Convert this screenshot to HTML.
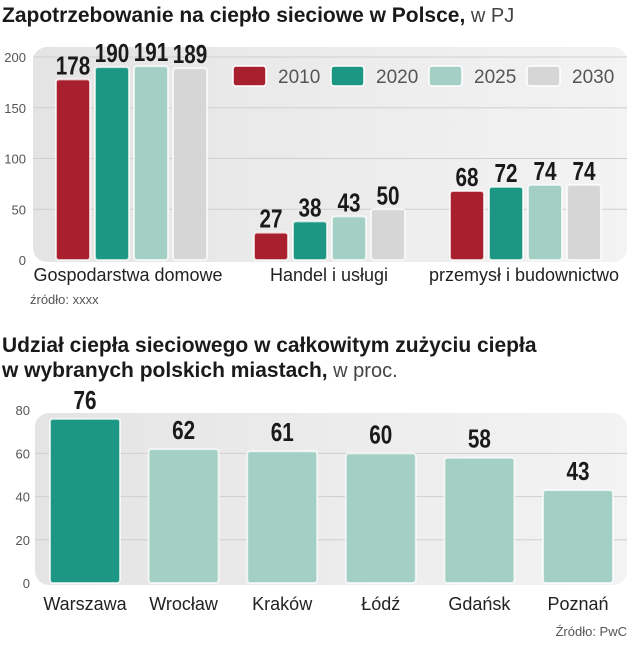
<!DOCTYPE html>
<html><head><meta charset="utf-8">
<style>
body{margin:0;background:#fff;width:630px;height:640px;overflow:hidden;font-family:"Liberation Sans",sans-serif}
svg text{font-family:"Liberation Sans",sans-serif}
.t{font-weight:bold;font-size:21px;fill:#1a1a1a}
.tl{font-weight:normal;font-size:20px;fill:#444}
.tick{font-size:13px;fill:#555}
.val{font-weight:bold;font-size:26px;fill:#1a1a1a}
.cat{font-size:18px;fill:#222}
</style></head>
<body>
<svg id="c" width="630" height="640" xmlns="http://www.w3.org/2000/svg">
<defs>
<linearGradient id="bg" x1="0" y1="0" x2="1" y2="0"><stop offset="0" stop-color="#e4e4e4"/><stop offset="1" stop-color="#f3f3f3"/></linearGradient>
</defs>
<text x="2" y="22" class="t">Zapotrzebowanie na ciepło sieciowe w Polsce,<tspan class="tl"> w PJ</tspan></text>
<rect x="33" y="47" width="594" height="215" rx="14" fill="url(#bg)"/>
<g id="g1"></g>
<text x="30" y="304" font-size="13" fill="#555">źródło: xxxx</text>
<text x="2" y="352" class="t">Udział ciepła sieciowego w całkowitym zużyciu ciepła</text>
<text x="2" y="377" class="t">w wybranych polskich miastach,<tspan class="tl"> w proc.</tspan></text>
<rect x="35" y="413" width="592" height="172" rx="14" fill="url(#bg)"/>
<g id="g2"></g>
<text x="627" y="636" text-anchor="end" font-size="13" fill="#555">Źródło: PwC</text>
</svg>
<script>
const groups1=["Gospodarstwa domowe","Handel i usługi","przemysł i budownictwo"];
const years1=["2010","2020","2025","2030"];
const s2010=[178,27,68];
const s2020=[190,38,72];
const s2025=[191,43,74];
const s2030=[189,50,74];
const ticks1=[0,50,100,150,200];
const cities=["Warszawa","Wrocław","Kraków","Łódź","Gdańsk","Poznań"];
const shares=[76,62,61,60,58,43];
const ticks2=[0,20,40,60,80];

const NS="http://www.w3.org/2000/svg";
const colors=["#a8202e","#1b9783","#a3cfc4","#d6d6d6"];
function mk(tag,attrs,parent,txt){const e=document.createElementNS(NS,tag);for(const k in attrs)e.setAttribute(k,attrs[k]);if(txt!==undefined)e.textContent=txt;parent.appendChild(e);return e;}
function valLabel(parent,cx,y,v){
  const s=String(v);
  const t=mk('text',{x:cx,y:y,'text-anchor':'middle',class:'val',textLength:s.length*11.5,lengthAdjust:'spacingAndGlyphs'},parent,s);
  
  
}
const g1=document.getElementById('g1'),g2=document.getElementById('g2');
const y1=v=>260-v*1.015;
ticks1.forEach(t=>{
  if(t>0){const l=mk('line',{x1:33,x2:627,y1:y1(t),y2:y1(t),stroke:'#cfcfcf','stroke-width':1},g1);
  
  }
  const tx=mk('text',{x:26,y:y1(t)+5,'text-anchor':'end',class:'tick'},g1,String(t));
  
  
});
const series=[s2010,s2020,s2025,s2030];
const gx=[56,254,450],catx=[128,329,524];
groups1.forEach((gname,gi)=>{
  series.forEach((s,si)=>{
    const x=gx[gi]+si*39,v=s[gi];
    const r=mk('rect',{x:x,y:y1(v),width:34,height:260-y1(v),rx:3,fill:colors[si],stroke:'#fff','stroke-opacity':0.7,'stroke-width':2},g1);
    
    
    valLabel(g1,x+17,y1(v)-5,v);
  });
  const c=mk('text',{x:catx[gi],y:281,'text-anchor':'middle',class:'cat'},g1,gname);
  
  
});
years1.forEach((yr,i)=>{
  const x=233+i*98;
  const r=mk('rect',{x:x,y:66,width:33,height:20,rx:3,fill:colors[i],stroke:'#fff','stroke-width':1.5},g1);
  
  
  const t=mk('text',{x:x+45,y:83,'font-size':19,fill:'#555'},g1,yr);
  
  
});
const y2=v=>583-v*2.16;
ticks2.forEach(t=>{
  if(t>0&&t<80){const l=mk('line',{x1:35,x2:627,y1:y2(t),y2:y2(t),stroke:'#cfcfcf','stroke-width':1},g2);
  
  }
  const tx=mk('text',{x:30,y:y2(t)+5,'text-anchor':'end',class:'tick'},g2,String(t));
  
  
});
cities.forEach((c,i)=>{
  const x=50+i*98.6,v=shares[i];
  const r=mk('rect',{x:x,y:y2(v),width:70,height:583-y2(v),rx:3,fill:i===0?'#1b9783':'#a3cfc4',stroke:'#fff','stroke-opacity':0.7,'stroke-width':2},g2);
  
  
  valLabel(g2,x+35,y2(v)-10,v);
  const l=mk('text',{x:x+35,y:610,'text-anchor':'middle',class:'cat'},g2,c);
  
  
});
</script>
</body></html>
